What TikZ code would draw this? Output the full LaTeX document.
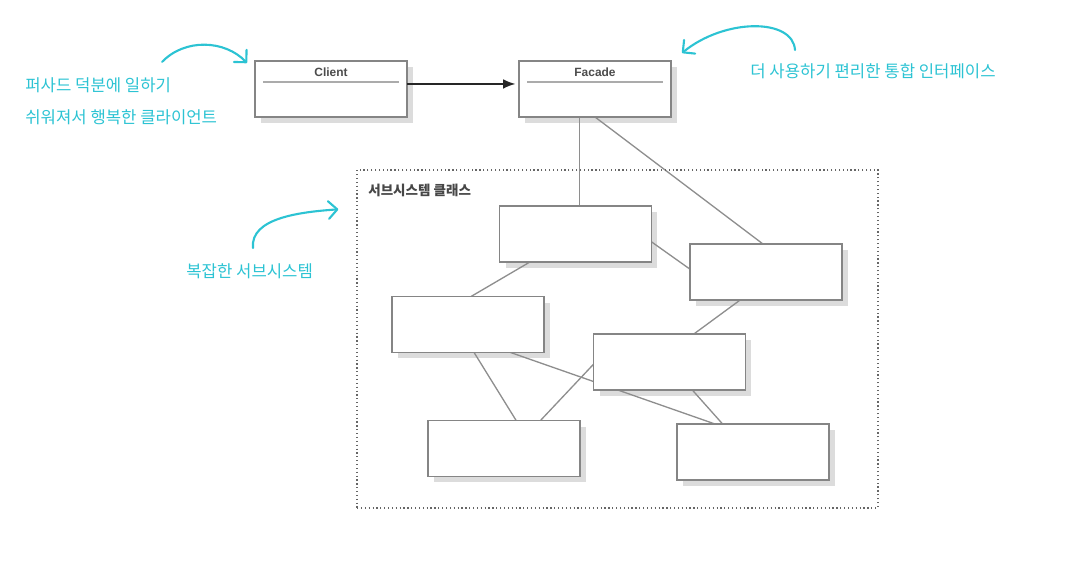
\documentclass[tikz,border=0pt]{standalone}
\usepackage{fontspec}
\setmainfont{Liberation Sans}
\newfontfamily\krfont{Noto Sans CJK KR}
\usetikzlibrary{arrows.meta,calc}
\definecolor{notecyan}{HTML}{2CC3D3}
\definecolor{boxgray}{HTML}{858585}
\definecolor{shadegray}{HTML}{DCDCDC}
\definecolor{wiregray}{HTML}{8E8E8E}
\pgfdeclarelayer{shade}
\pgfdeclarelayer{wire}
\pgfsetlayers{shade,wire,main}

\begin{document}
\begin{tikzpicture}[x=0.02cm,y=-0.02cm,
        cls/.style={draw=boxgray, line width=0.75pt, fill=white, minimum width=3.04cm,
          minimum height=1.12cm, inner sep=0pt, outer sep=0pt},
        ttl/.style={font=\bfseries\fontsize{6.8}{8}\selectfont, text=black!70, inner sep=0pt},
        sep/.style={draw=black!33, line width=1pt},
        wire/.style={wiregray, line width=0.75pt},
        note/.style={text=notecyan, font=\krfont\fontsize{9.5}{11}\selectfont, anchor=west, inner sep=0pt},
        notearrow/.style={notecyan, line width=1.2pt, line cap=round,
          -{Straight Barb[length=5pt,width=10pt,round]}}]
        \useasboundingbox (0,0) rectangle (1065,577);
        % client and facade
        \node[cls] (cli) at (331,89) {};
        \node[ttl] (clit) at (331,72) {Client};
        \draw[sep] ($(cli.north west)+(8,21)$) -- ($(cli.north east)+(-8,21)$);
        \node[cls] (fac) at (595,89) {};
        \node[ttl] (fact) at (595,72) {Facade};
        \draw[sep] ($(fac.north west)+(8,21)$) -- ($(fac.north east)+(-8,21)$);
        \draw[-{Latex[length=7pt,width=5.5pt]}, line width=1pt, black!85, shorten >=2pt]
          ($(cli.north east)!.41!(cli.south east)$) -- ($(fac.north west)!.41!(fac.south west)$);
        % subsystem
        \node[draw=black!60, line width=0.8pt, dash pattern=on 0.7pt off 1.5pt,
          minimum width=10.42cm, minimum height=6.76cm, inner sep=0pt] (sub) at (617.5,339) {};
        \node[font=\krfont\bfseries\fontsize{7.7}{9}\selectfont, text=black!72, anchor=west,
          inner sep=0pt] (subt) at (368,190) {서브시스템 클래스};
        \node[cls] (a) at (575.5,234) {};
        \node[cls] (b) at (766,272) {};
        \node[cls] (c) at (468,324.5) {};
        \node[cls] (d) at (669.5,362) {};
        \node[cls] (e) at (504,448.5) {};
        \node[cls] (f) at (753,452) {};
        \begin{pgfonlayer}{shade}
        \foreach \n in {cli,fac,a,b,c,d,e,f}
          \fill[shadegray] ($(\n.south west)+(6,6)$) rectangle ($(\n.north east)+(6,6)$);
        \end{pgfonlayer}
        \begin{pgfonlayer}{wire}
        \coordinate (fa) at ($(fac.south west)!.4!(fac.south east)$);
        \draw[wire] (fa) -- (fa |- a.north);
        \draw[wire] (fac.south) -- ($(b.north west)!.48!(b.north east)$);
        \draw[wire] ($(a.north east)!.64!(a.south east)$) -- ($(b.north west)!.45!(b.south west)$);
        \draw[wire] ($(a.south west)!.2!(a.south east)$) -- ($(c.north west)!.52!(c.north east)$);
        \draw[wire] ($(b.south west)!.33!(b.south east)$) -- ($(d.north west)!.66!(d.north east)$);
        \draw[wire] ($(c.south west)!.54!(c.south east)$) -- ($(e.north west)!.58!(e.north east)$);
        \draw[wire] ($(c.south west)!.78!(c.south east)$) -- ($(f.north west)!.25!(f.north east)$);
        \draw[wire] ($(e.north west)!.74!(e.north east)$) -- ($(d.north west)!.54!(d.south west)$);
        \draw[wire] ($(d.south west)!.65!(d.south east)$) -- ($(f.north west)!.3!(f.north east)$);
        \end{pgfonlayer}
        % notes
        \node[note] (n1) at (25,85) {퍼사드 덕분에 일하기};
        \node[note] (n2) at (25,117) {쉬워져서 행복한 클라이언트};
        \node[note] (n3) at (750,71) {더 사용하기 편리한 통합 인터페이스};
        \node[note] (n4) at (186,271) {복잡한 서브시스템};
        \coordinate (s1) at (162,62);
        \coordinate (s2) at (795,50);
        \coordinate (s3) at (253,248);
        \draw[notearrow] (s1) .. controls (185,38) and (225,40) .. ($(cli.north west)+(-8,2)$);
        \draw[notearrow] (s2) .. controls (793,18) and (725,18) .. ($(fac.north east)+(11,-8)$);
        \draw[notearrow] (s3) .. controls (250,218) and (300,212) .. ($(sub.north west)+(-18,40)$);
\end{tikzpicture}
\end{document}
